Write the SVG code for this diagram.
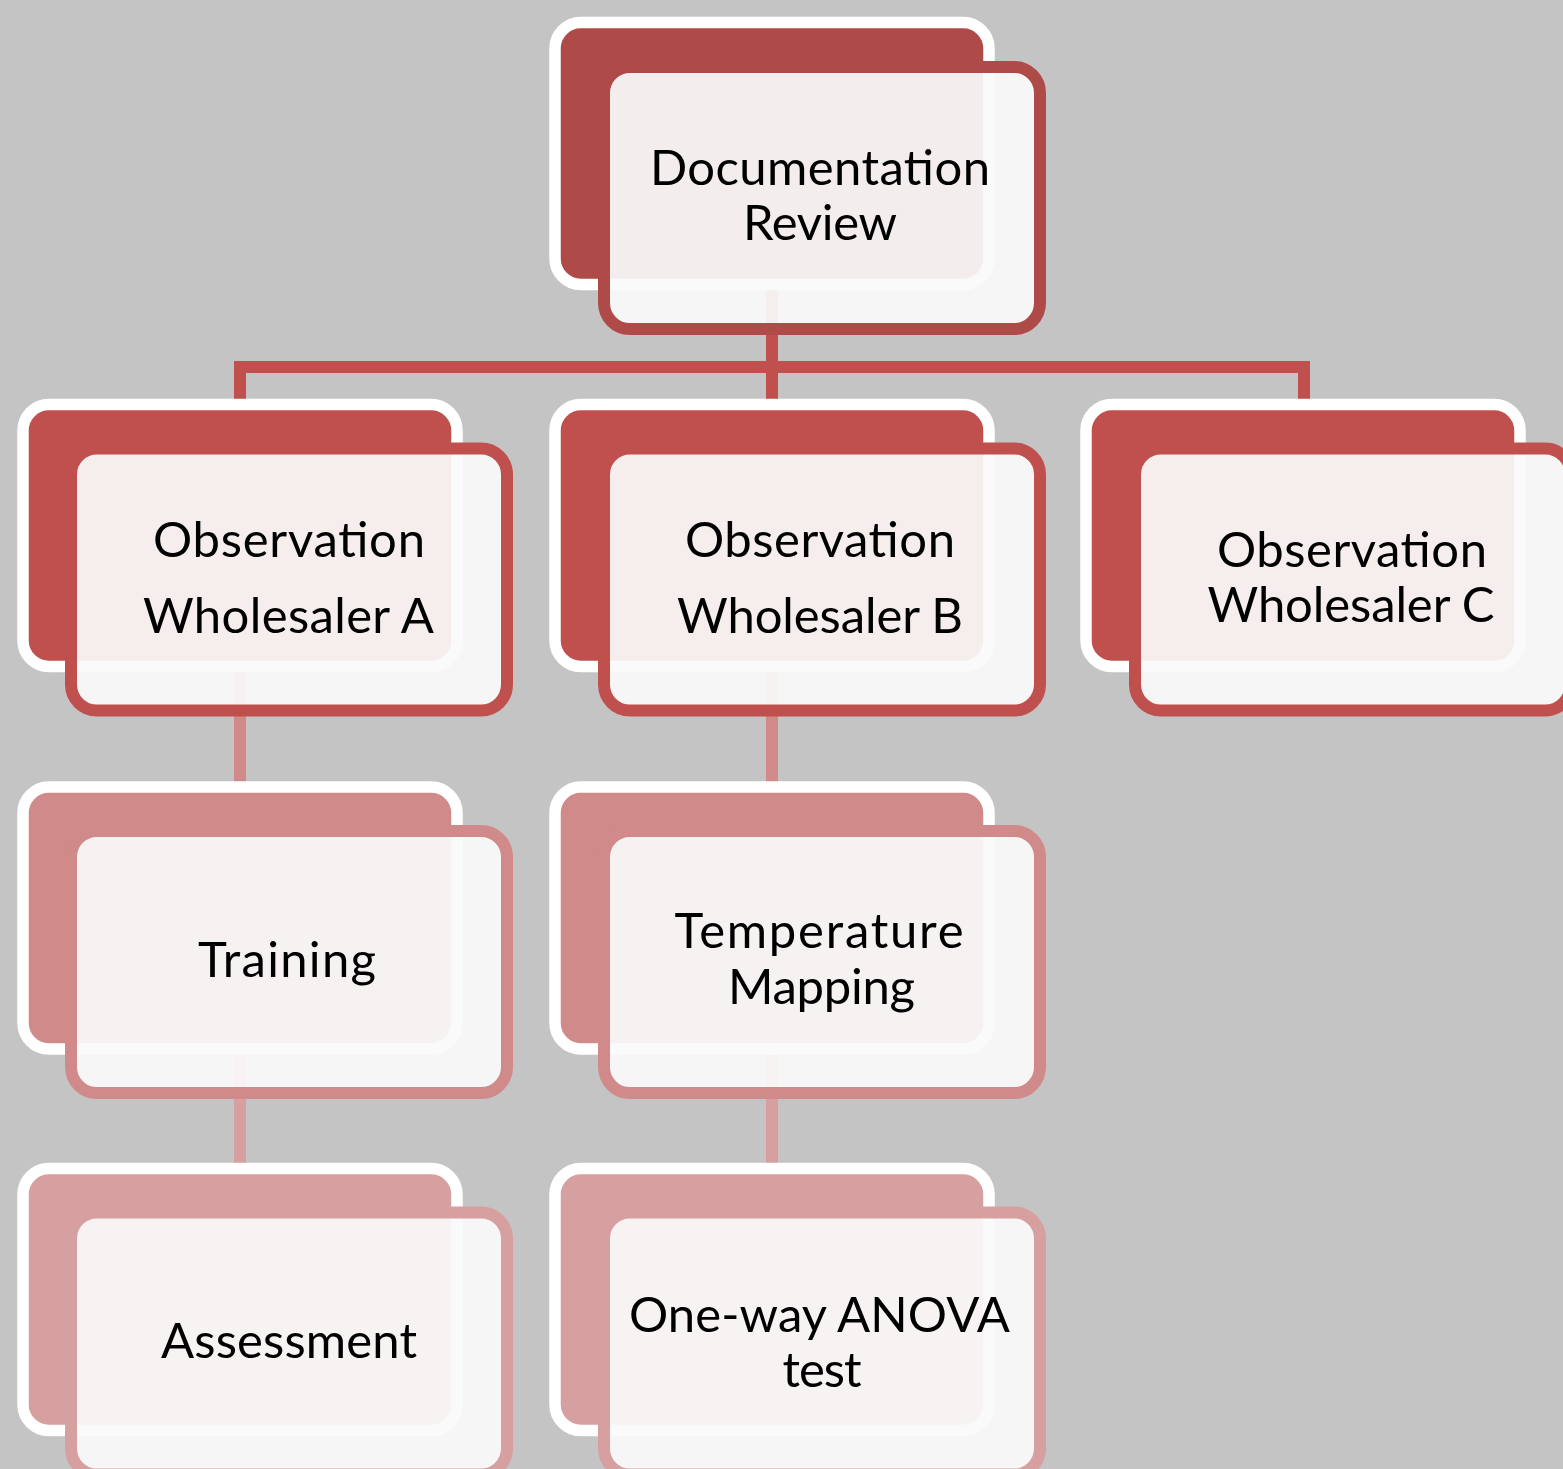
<svg xmlns="http://www.w3.org/2000/svg" width="1563" height="1469" viewBox="0 0 1563 1469">
<style>
.bg{fill:#C4C4C4}
.back{stroke:#FFFFFF;stroke-width:11.5}
.front{fill:#FAFAFA;fill-opacity:0.93;stroke-width:12}
.conn{fill:none;stroke-width:12;stroke-linejoin:miter}
.t{font-family:Lato,"Open Sans","Liberation Sans",sans-serif;font-size:49px;fill:#000000;text-anchor:middle}
.l1{fill:#AE4A48}.s1{stroke:#AE4A48}
.l2{fill:#C0504D}.s2{stroke:#C0504D}
.l3{fill:#D08A89}.s3{stroke:#D08A89}
.l4{fill:#D7A0A0}.s4{stroke:#D7A0A0}
</style>
<rect class="bg" x="0" y="0" width="1563" height="1469"/>
<g id="connectors">
<path class="conn s2" d="M772,200 V410 M240,410 V367 H1304 V410"/>
<path class="conn s3" d="M240,560 V800 M772,560 V800"/>
<path class="conn s4" d="M240,940 V1180 M772,940 V1180"/>
</g>
<g id="node-documentation-review">
<rect class="back l1" x="555" y="22.5" width="434" height="262" rx="26"/>
<rect class="front s1" x="604" y="67" width="436" height="262" rx="26"/>
<text class="t" x="820" y="185" textLength="340" lengthAdjust="spacing">Documentation</text>
<text class="t" x="820" y="240" textLength="154" lengthAdjust="spacing">Review</text>
</g>
<g id="node-wholesaler-a">
<rect class="back l2" x="23" y="404.5" width="434" height="262" rx="26"/>
<rect class="front s2" x="71" y="448.5" width="436" height="262" rx="26"/>
<text class="t" x="289" y="556.5" textLength="272" lengthAdjust="spacing">Observation</text>
<text class="t" x="288.5" y="633" textLength="291" lengthAdjust="spacing">Wholesaler A</text>
</g>
<g id="node-wholesaler-b">
<rect class="back l2" x="555" y="404.5" width="434" height="262" rx="26"/>
<rect class="front s2" x="604" y="448.5" width="436" height="262" rx="26"/>
<text class="t" x="820" y="556.5" textLength="270" lengthAdjust="spacing">Observation</text>
<text class="t" x="820" y="633" textLength="286" lengthAdjust="spacing">Wholesaler B</text>
</g>
<g id="node-wholesaler-c">
<rect class="back l2" x="1086" y="404.5" width="434" height="262" rx="26"/>
<rect class="front s2" x="1135" y="448.5" width="436" height="262" rx="26"/>
<text class="t" x="1352" y="566.5" textLength="270" lengthAdjust="spacing">Observation</text>
<text class="t" x="1351" y="622" textLength="287" lengthAdjust="spacing">Wholesaler C</text>
</g>
<g id="node-training">
<rect class="back l3" x="23" y="787" width="434" height="262" rx="26"/>
<rect class="front s3" x="71" y="831" width="436" height="262" rx="26"/>
<text class="t" x="287" y="977" textLength="178" lengthAdjust="spacing">Training</text>
</g>
<g id="node-temperature-mapping">
<rect class="back l3" x="555" y="787" width="434" height="262" rx="26"/>
<rect class="front s3" x="604" y="831" width="436" height="262" rx="26"/>
<text class="t" x="819" y="948" textLength="289" lengthAdjust="spacing">Temperature</text>
<text class="t" x="821.5" y="1004" textLength="187" lengthAdjust="spacing">Mapping</text>
</g>
<g id="node-assessment">
<rect class="back l4" x="23" y="1168.5" width="434" height="262" rx="26"/>
<rect class="front s4" x="71" y="1212.5" width="436" height="262" rx="26"/>
<text class="t" x="289" y="1358" textLength="256" lengthAdjust="spacing">Assessment</text>
</g>
<g id="node-anova">
<rect class="back l4" x="555" y="1168.5" width="434" height="262" rx="26"/>
<rect class="front s4" x="604" y="1212.5" width="436" height="262" rx="26"/>
<text class="t" x="819.5" y="1331.5" textLength="381" lengthAdjust="spacing">One-way ANOVA</text>
<text class="t" x="822" y="1386.5" textLength="79" lengthAdjust="spacing">test</text>
</g>
</svg>
